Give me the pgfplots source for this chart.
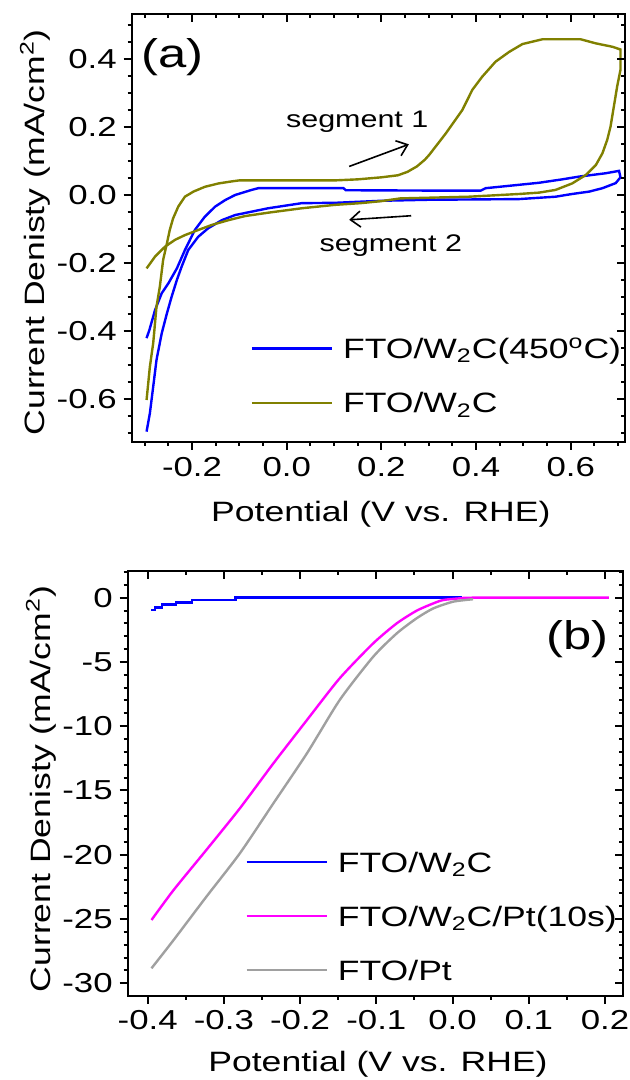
\documentclass[border=0pt]{standalone}
\usepackage{fontspec}
\setmainfont{Liberation Sans}[FakeStretch=1.27]
\usepackage{pgfplots}
\pgfplotsset{compat=1.18}
\usetikzlibrary{arrows.meta}
\definecolor{olivec}{RGB}{128,128,0}
\definecolor{bluec}{RGB}{0,0,255}
\definecolor{magc}{RGB}{255,0,255}
\definecolor{grayc}{RGB}{160,160,160}
\pgfplotsset{
  base/.style={
    scale only axis,
    axis line style={line width=1pt},
    every tick/.style={line width=1pt, black},
    major tick length=4pt,
    minor tick length=2pt,
    tick label style={font=\fontsize{13.7}{16}\selectfont},
    label style={font=\fontsize{14}{17}\selectfont},
  },
  outer/.style={tick align=outside, xtick pos=left, ytick pos=left},
  inner/.style={tick align=inside, xtick pos=right, ytick pos=right, xticklabels={}, yticklabels={}},
  topgeo/.style={base, at={(65.85pt,319pt)}, anchor=south west, width=246.65pt, height=214pt,
    xmin=-0.3274, xmax=0.7146, ymin=-0.7265, ymax=0.5324,
    xtick={-0.2,0,0.2,0.4,0.6}, xticklabels={-0.2,0.0,0.2,0.4,0.6},
    minor xtick={-0.3,-0.25,-0.15,-0.1,-0.05,0.05,0.1,0.15,0.25,0.3,0.35,0.45,0.5,0.55,0.65,0.7},
    ytick={-0.6,-0.4,-0.2,0,0.2,0.4}, yticklabels={-0.6,-0.4,-0.2,0.0,0.2,0.4},
    minor ytick={-0.7,-0.65,-0.55,-0.5,-0.45,-0.35,-0.3,-0.25,-0.15,-0.1,-0.05,0.05,0.1,0.15,0.25,0.3,0.35,0.45,0.5}},
  botgeo/.style={base, at={(63.85pt,42.15pt)}, anchor=south west, width=247.8pt, height=212.5pt,
    xmin=-0.4262, xmax=0.2241, ymin=-30.97, ymax=2.10,
    xtick={-0.4,-0.3,-0.2,-0.1,0,0.1,0.2}, xticklabels={-0.4,-0.3,-0.2,-0.1,0.0,0.1,0.2},
    minor xtick={-0.35,-0.25,-0.15,-0.05,0.05,0.15},
    ytick={-30,-25,-20,-15,-10,-5,0}, yticklabels={-30,-25,-20,-15,-10,-5,0},
    minor ytick={-31,-30,...,2}},
  leg/.style={legend cell align=left,
    legend style={draw=none, fill=none, inner sep=0pt, outer sep=0pt, column sep=5pt,
      nodes={inner sep=0pt, anchor=base west, text height=10pt, text depth=4pt},
      font=\fontsize{14}{17}\selectfont},
    legend image code/.code={\draw[##1, line width=1.2pt] (0pt,5pt) -- (40pt,5pt);}},
}
\begin{document}
\begin{tikzpicture}
\useasboundingbox (0,0) rectangle (314.5pt,540pt);
% ---------- top panel ----------
\begin{axis}[topgeo, outer, leg,
  xlabel={Potential (V vs. RHE)},
  ylabel={Current Denisty (mA/cm\textsuperscript{2})},
  xlabel style={at={(rel axis cs:0.505,-0.1862)}, anchor=base},
  ylabel style={at={(rel axis cs:-0.196,0.49)}, anchor=center},
  legend style={at={(rel axis cs:0.2412,0.2414)}, anchor=north west, row sep=13.15pt},
]
\addplot[bluec, line width=1.2pt] coordinates {
(-0.296,-0.421) (-0.290,-0.397) (-0.278,-0.338) (-0.264,-0.289) (-0.250,-0.260)
(-0.232,-0.216) (-0.215,-0.162) (-0.194,-0.103) (-0.173,-0.064) (-0.151,-0.034)
(-0.130,-0.015) (-0.109,0.000) (-0.074,0.015) (-0.060,0.020) (0.120,0.020)
(0.125,0.014) (0.300,0.013) (0.410,0.013) (0.420,0.020) (0.484,0.029)
(0.533,0.036) (0.582,0.046) (0.617,0.054) (0.674,0.064) (0.702,0.071)
(0.705,0.052) (0.695,0.035) (0.667,0.020) (0.639,0.010) (0.603,0.003)
(0.568,-0.005) (0.491,-0.012) (0.400,-0.013) (0.300,-0.014) (0.200,-0.017)
(0.102,-0.023) (0.032,-0.024) (-0.039,-0.039) (-0.074,-0.049) (-0.109,-0.059)
(-0.137,-0.074) (-0.166,-0.098) (-0.187,-0.123) (-0.208,-0.162) (-0.222,-0.211)
(-0.232,-0.250) (-0.243,-0.299) (-0.253,-0.348) (-0.264,-0.407) (-0.275,-0.485)
(-0.282,-0.564) (-0.289,-0.642) (-0.296,-0.696)
};
\addlegendentry{FTO/W\textsubscript{2}C(450\textsuperscript{o}C)}
\addplot[olivec, line width=1.2pt] coordinates {
(-0.296,-0.603) (-0.289,-0.505) (-0.282,-0.436) (-0.275,-0.328) (-0.268,-0.270)
(-0.261,-0.191) (-0.253,-0.142) (-0.247,-0.103) (-0.240,-0.069) (-0.229,-0.034)
(-0.215,-0.005) (-0.197,0.010) (-0.173,0.024) (-0.144,0.034) (-0.116,0.040)
(-0.100,0.043) (0.102,0.043) (0.150,0.046) (0.200,0.052) (0.235,0.058)
(0.255,0.068) (0.275,0.084) (0.292,0.104) (0.301,0.118) (0.336,0.181)
(0.371,0.250) (0.392,0.309) (0.413,0.348) (0.441,0.392) (0.470,0.421)
(0.498,0.444) (0.540,0.458) (0.621,0.458) (0.653,0.446) (0.688,0.436)
(0.705,0.428) (0.705,0.368) (0.698,0.319) (0.691,0.260) (0.684,0.201)
(0.677,0.162) (0.667,0.123) (0.653,0.088) (0.632,0.059) (0.603,0.034)
(0.568,0.015) (0.533,0.007) (0.491,0.003) (0.385,-0.005) (0.300,-0.008)
(0.240,-0.010) (0.200,-0.018) (0.156,-0.024) (0.102,-0.029) (0.032,-0.039)
(-0.039,-0.052) (-0.088,-0.062) (-0.123,-0.074) (-0.158,-0.088) (-0.187,-0.103)
(-0.215,-0.118) (-0.236,-0.132) (-0.257,-0.152) (-0.278,-0.181) (-0.296,-0.216)
};
\addlegendentry{FTO/W\textsubscript{2}C}
\node[font=\fontsize{12}{14}\selectfont] at (axis cs:0.149,0.215) {segment 1};
\node[font=\fontsize{12}{14}\selectfont] at (axis cs:0.220,-0.149) {segment 2};
\draw[-{Straight Barb[length=5pt,width=8pt]}, line width=0.8pt] (axis cs:0.132,0.084) -- (axis cs:0.258,0.149);
\draw[-{Straight Barb[length=5pt,width=8pt]}, line width=0.8pt] (axis cs:0.263,-0.061) -- (axis cs:0.132,-0.073);
\node[font=\fontsize{20}{24}\selectfont] at (axis cs:-0.241,0.406) {(a)};
\end{axis}
\begin{axis}[topgeo, inner]
\end{axis}
% ---------- bottom panel ----------
\begin{axis}[botgeo, outer, leg,
  xlabel={Potential (V vs. RHE)},
  ylabel={Current Denisty (mA/cm\textsuperscript{2})},
  xlabel style={at={(rel axis cs:0.505,-0.1795)}, anchor=base},
  ylabel style={at={(rel axis cs:-0.175,0.486)}, anchor=center},
  legend style={at={(rel axis cs:0.2377,0.338)}, anchor=north west, row sep=13pt},
]
\addplot[bluec, line width=1.2pt] coordinates {
(-0.395,-0.96) (-0.390,-0.96) (-0.390,-0.75) (-0.381,-0.75) (-0.381,-0.52)
(-0.363,-0.52) (-0.363,-0.36) (-0.342,-0.36) (-0.342,-0.18) (-0.285,-0.18)
(-0.285,0) (0.012,0)
};
\addlegendentry{FTO/W\textsubscript{2}C}
\addplot[magc, line width=1.2pt, smooth, tension=0.4] coordinates {
(-0.395,-25.08) (-0.366,-22.75) (-0.323,-19.63) (-0.279,-16.39) (-0.235,-12.89)
(-0.191,-9.52) (-0.148,-6.27) (-0.104,-3.55) (-0.073,-1.99) (-0.047,-1.01)
(-0.025,-0.44) (-0.012,-0.18) (0.010,-0.05) (0.030,0) (0.205,0)
};
\addlegendentry{FTO/W\textsubscript{2}C/Pt(10s)}
\addplot[grayc, line width=1.2pt, smooth, tension=0.4] coordinates {
(-0.395,-28.84) (-0.366,-26.64) (-0.323,-23.27) (-0.279,-19.89) (-0.235,-16.0)
(-0.191,-12.11) (-0.148,-7.96) (-0.104,-4.59) (-0.073,-2.77) (-0.047,-1.60)
(-0.025,-0.83) (0.001,-0.31) (0.027,-0.12)
};
\addlegendentry{FTO/Pt}
\node[font=\fontsize{20}{24}\selectfont] at (axis cs:0.164,-3.26) {(b)};
\end{axis}
\begin{axis}[botgeo, inner]
\end{axis}
\end{tikzpicture}
\end{document}
